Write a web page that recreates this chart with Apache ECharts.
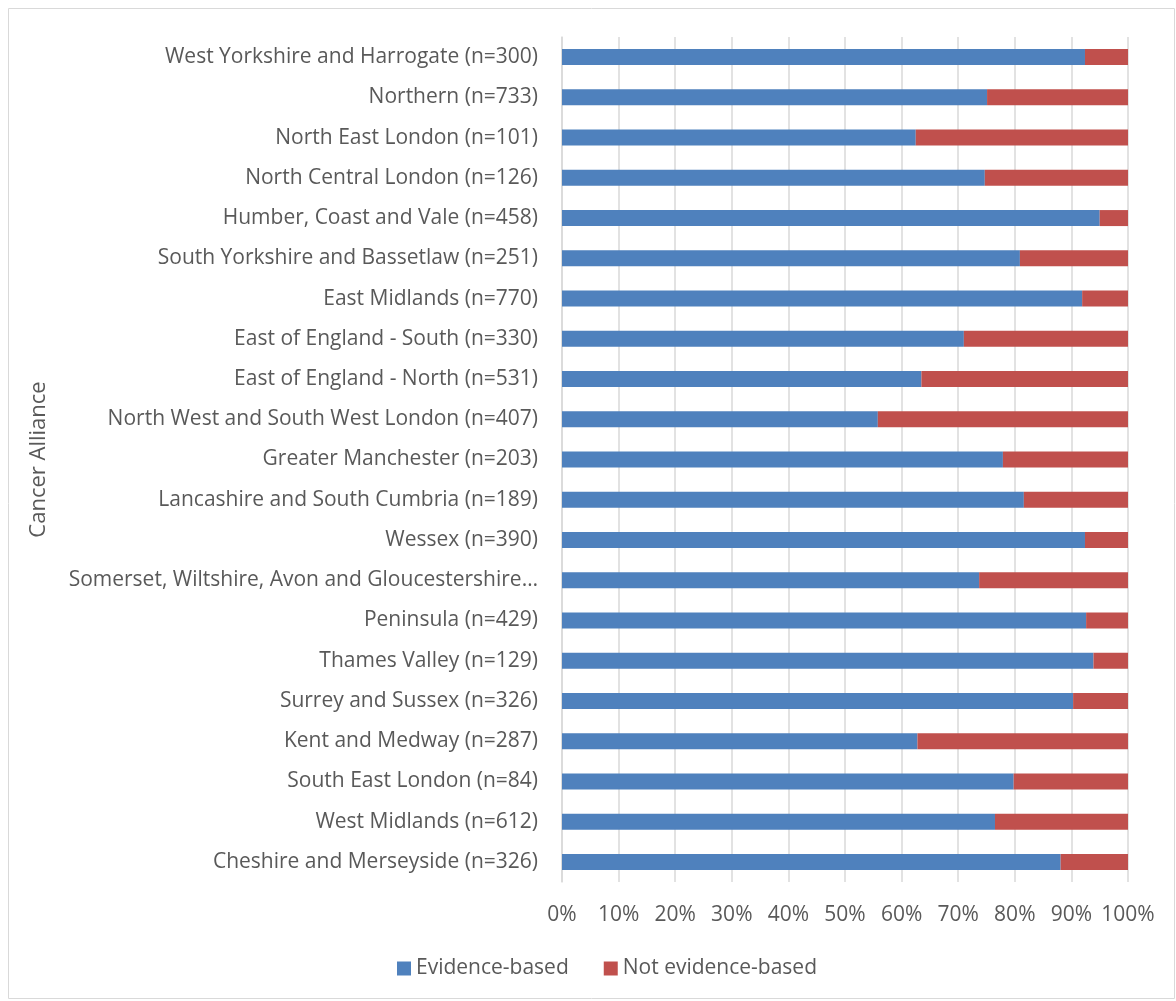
<!DOCTYPE html>
<html>
<head>
<meta charset="utf-8">
<script src="https://cdn.jsdelivr.net/npm/echarts@6/dist/echarts.min.js"></script>
<style>html,body{margin:0;padding:0;background:#fff;}#c{width:1176px;height:1001px;}</style>
</head>
<body>
<div id="c"></div>
<script>
const categories = [
  "West Yorkshire and Harrogate (n=300)",
  "Northern (n=733)",
  "North East London (n=101)",
  "North Central London (n=126)",
  "Humber, Coast and Vale (n=458)",
  "South Yorkshire and Bassetlaw (n=251)",
  "East Midlands (n=770)",
  "East of England - South (n=330)",
  "East of England - North (n=531)",
  "North West and South West London (n=407)",
  "Greater Manchester (n=203)",
  "Lancashire and South Cumbria (n=189)",
  "Wessex (n=390)",
  "Somerset, Wiltshire, Avon and Gloucestershire…",
  "Peninsula (n=429)",
  "Thames Valley (n=129)",
  "Surrey and Sussex (n=326)",
  "Kent and Medway (n=287)",
  "South East London (n=84)",
  "West Midlands (n=612)",
  "Cheshire and Merseyside (n=326)"
];
const evidenceBased = [92.4, 75.1, 62.5, 74.7, 95.0, 80.9, 91.9, 71.0, 63.5, 55.8, 77.9, 81.6, 92.4, 73.7, 92.6, 93.9, 90.3, 62.8, 79.8, 76.5, 88.1];
const notEvidenceBased = [7.6, 24.9, 37.5, 25.3, 5.0, 19.1, 8.1, 29.0, 36.5, 44.2, 22.1, 18.4, 7.6, 26.3, 7.4, 6.1, 9.7, 37.2, 20.2, 23.5, 11.9];
const xTicks = [0, 10, 20, 30, 40, 50, 60, 70, 80, 90, 100];

const font = '"Open Sans", "Noto Sans", sans-serif';
const chart = echarts.init(document.getElementById('c'), null, {renderer: 'canvas'});
chart.setOption({
  animation: false,
  textStyle: {fontFamily: font},
  graphic: [{
    type: 'rect', shape: {x: 8.5, y: 8.5, width: 1166, height: 990},
    style: {fill: 'none', stroke: '#d9d9d9', lineWidth: 1}, silent: true
  }],
  grid: {left: 562, right: 48, top: 37, bottom: 119, containLabel: false},
  legend: {
    bottom: 17, left: 392, itemWidth: 14, itemHeight: 14, itemGap: 35,
    icon: 'rect',
    textStyle: {color: '#595959', fontSize: 21, fontFamily: font},
    data: ['Evidence-based', 'Not evidence-based']
  },
  xAxis: {
    type: 'value', min: 0, max: 100, interval: 10,
    axisLine: {show: false}, axisTick: {show: false},
    splitLine: {show: true, lineStyle: {color: '#d9d9d9', width: 1.5}},
    axisLabel: {color: '#595959', fontSize: 21, margin: 23, fontFamily: font,
      formatter: v => xTicks.includes(v) ? v + '%' : ''}
  },
  yAxis: {
    type: 'category', data: categories, inverse: true,
    name: 'Cancer Alliance', nameLocation: 'middle', nameGap: 512,
    nameTextStyle: {color: '#595959', fontSize: 22, fontFamily: font},
    axisLine: {show: true, lineStyle: {color: '#d9d9d9', width: 1.5}},
    axisTick: {show: false},
    axisLabel: {color: '#595959', fontSize: 21, margin: 24, fontFamily: font}
  },
  series: [
    {name: 'Evidence-based', type: 'bar', stack: 'total', data: evidenceBased,
     barWidth: 16, itemStyle: {color: '#4F81BD'}},
    {name: 'Not evidence-based', type: 'bar', stack: 'total', data: notEvidenceBased,
     barWidth: 16, itemStyle: {color: '#C0504D'}}
  ]
});
</script>
</body>
</html>
